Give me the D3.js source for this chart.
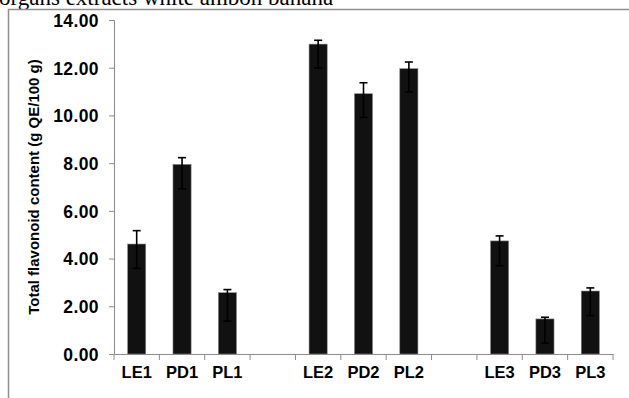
<!DOCTYPE html>
<html>
<head>
<style>
	body { margin: 0; background: #fff; }
	.axis path, .axis line { stroke: #8c8c8c; }
	.axis text { font-family: "Liberation Sans", Arial, sans-serif; font-weight: bold; fill: #000; }
	.bar { fill: #111; stroke: #8a8a8a; stroke-width: 0.6px; }
	.err { stroke: #000; stroke-width: 1.6px; fill: none; }
</style>
<script src="https://d3js.org/d3.v7.min.js"></script>
</head>
<body>
<script>
	// chart values
	var categories = ["LE1", "PD1", "PL1", "", "LE2", "PD2", "PL2", "", "LE3", "PD3", "PL3"];
	var means      = [4.61, 7.95, 2.57, null, 12.99, 10.91, 11.96, null, 4.74, 1.47, 2.64];
	var errTop     = [5.17, 8.23, 2.70, null, 13.15, 11.37, 12.24, null, 4.95, 1.54, 2.77];
	var errBottom  = [3.59, 6.92, 1.38, null, 11.99, 9.92, 10.99, null, 3.70, 0.45, 1.61];
	var yTicks     = [0, 2, 4, 6, 8, 10, 12, 14];

	function draw() {
		"use strict";
		var width = 629, height = 398;
		var left = 114, right = 613, plotTop = 20, plotBottom = 354;

		var svg = d3.select("body").append("svg")
			.attr("width", width)
			.attr("height", height);

		// caption line cut off at the top
		svg.append("text")
			.attr("x", -1)
			.attr("y", 5)
			.style("font-family", "'Liberation Serif', 'Times New Roman', serif")
			.style("font-size", "23px")
			.text("organs extracts white ambon banana");

		// frame around the figure
		svg.append("path")
			.attr("d", "M8.5," + height + "V9.5H" + width)
			.attr("fill", "none")
			.attr("stroke", "#8f8f8f")
			.attr("stroke-width", 1.5);

		var x = d3.scaleBand()
			.domain(d3.range(categories.length))
			.range([left, right])
			.paddingInner(0.6)
			.paddingOuter(0.3);

		var y = d3.scaleLinear()
			.domain([0, 14])
			.range([plotBottom, plotTop]);

		// y axis
		var yAxis = d3.axisLeft(y)
			.tickValues(yTicks)
			.tickFormat(d3.format(".2f"))
			.tickSizeOuter(0)
			.tickSize(5)
			.tickPadding(10);
		var gy = svg.append("g")
			.attr("class", "axis")
			.attr("transform", "translate(" + left + ",0)")
			.call(yAxis);
		gy.selectAll("text")
			.style("font-size", "17.5px")
			.style("letter-spacing", "0.4px")
			.attr("dy", "0.36em");

		// x axis: labels under band centres, ticks at band boundaries
		var xAxis = d3.axisBottom(x)
			.tickFormat(function(i){ return categories[i]; })
			.tickSize(0)
			.tickSizeOuter(0)
			.tickPadding(12);
		var gx = svg.append("g")
			.attr("class", "axis")
			.attr("transform", "translate(0," + plotBottom + ")")
			.call(xAxis);
		gx.selectAll("text").style("font-size", "16.5px");

		var step = (right - left) / categories.length;
		gx.selectAll(".bound")
			.data(d3.range(categories.length + 1))
			.enter().append("line")
			.attr("class", "bound")
			.attr("x1", function(i){ return left + i * step; })
			.attr("x2", function(i){ return left + i * step; })
			.attr("y1", 0)
			.attr("y2", 6);

		var idx = d3.range(categories.length).filter(function(i){ return means[i] != null; });

		svg.selectAll("rect.bar")
			.data(idx)
			.enter().append("rect")
			.attr("class", "bar")
			.attr("x", function(i){ return x(i); })
			.attr("width", x.bandwidth())
			.attr("y", function(i){ return y(means[i]); })
			.attr("height", function(i){ return plotBottom - y(means[i]); });

		var cap = 4;
		var eb = svg.selectAll("g.err")
			.data(idx)
			.enter().append("g")
			.attr("class", "err")
			.attr("transform", function(i){ return "translate(" + (x(i) + x.bandwidth() / 2) + ",0)"; });
		eb.append("line")
			.attr("y1", function(i){ return y(errTop[i]); })
			.attr("y2", function(i){ return y(errBottom[i]); });
		eb.append("line")
			.attr("x1", -cap).attr("x2", cap)
			.attr("y1", function(i){ return y(errTop[i]); })
			.attr("y2", function(i){ return y(errTop[i]); });
		eb.append("line")
			.attr("x1", -cap).attr("x2", cap)
			.attr("y1", function(i){ return y(errBottom[i]); })
			.attr("y2", function(i){ return y(errBottom[i]); });

		// y axis title
		svg.append("text")
			.attr("transform", "translate(34," + ((plotTop + plotBottom) / 2) + ") rotate(-90)")
			.attr("text-anchor", "middle")
			.attr("dy", "0.35em")
			.style("font-family", "'Liberation Sans', Arial, sans-serif")
			.style("font-weight", "bold")
			.style("font-size", "15px")
			.text("Total flavonoid content (g QE/100 g)");
	}
	draw();
</script>
</body>
</html>
